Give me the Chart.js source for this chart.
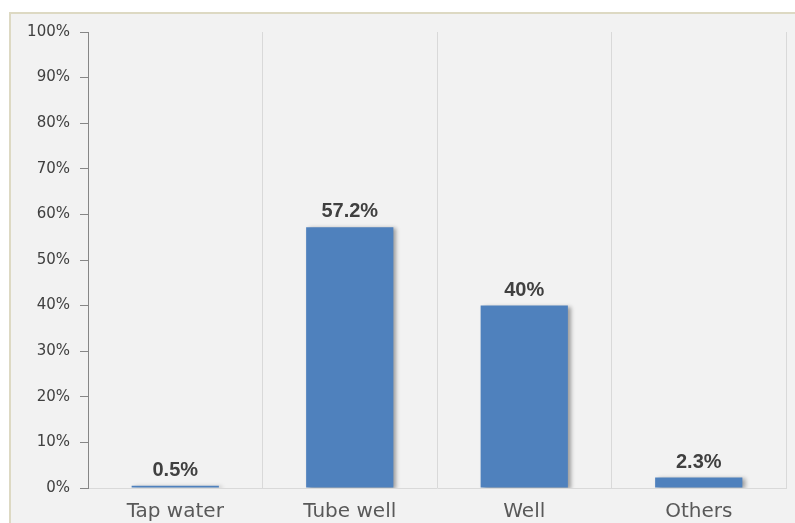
<!DOCTYPE html>
<html lang="en">
<head>
  <meta charset="UTF-8">
  <title>Drinking Water Source</title>
  <style>
    html, body {
      margin: 0;
      padding: 0;
      background: #ffffff;
      overflow: hidden;
    }

    .panel {
      position: absolute;
      left: 9px;
      top: 12px;
      width: 800px;
      height: 520px;
      background-color: #f2f2f2;
      border-top: 2px solid #ddd9c3;
      border-left: 2px solid #ddd9c3;
    }

    #waterChart {
      position: absolute;
      left: 0;
      top: 0;
    }
  </style>
</head>
<body>
<div class="panel"></div>
<canvas id="waterChart" width="795" height="523"></canvas>

<script src="https://cdn.jsdelivr.net/npm/chart.js"></script>
<script>
  const categories = ['Tap water', 'Tube well', 'Well', 'Others'];
  const shares = [0.5, 57.2, 40, 2.3];
  const shareLabels = ['0.5%', '57.2%', '40%', '2.3%'];

  // soft drop shadow behind the bars
  const barShadow = {
    id: 'barShadow',
    beforeDatasetsDraw(chart) {
      const c = chart.ctx;
      c.save();
      c.shadowColor = 'rgba(0, 0, 0, 0.35)';
      c.shadowBlur = 4;
      c.shadowOffsetX = 3;
      c.shadowOffsetY = 1;
    },
    afterDatasetsDraw(chart) {
      chart.ctx.restore();
    }
  };

  // value labels above each bar
  const barLabels = {
    id: 'barLabels',
    afterDraw(chart) {
      const c = chart.ctx;
      const bars = chart.getDatasetMeta(0).data;
      c.save();
      c.font = 'bold 20px "Liberation Sans"';
      c.fillStyle = '#404040';
      c.textAlign = 'center';
      c.textBaseline = 'alphabetic';
      bars.forEach((bar, i) => {
        c.fillText(shareLabels[i], bar.x, bar.y - 10);
      });
      c.restore();
    }
  };

  const ctx = document.getElementById('waterChart').getContext('2d');
  new Chart(ctx, {
    type: 'bar',
    data: {
      labels: categories,
      datasets: [{
        data: shares,
        backgroundColor: '#4f81bd',
        borderWidth: 0,
        categoryPercentage: 1,
        barPercentage: 0.5
      }]
    },
    options: {
      responsive: false,
      animation: false,
      layout: {
        padding: { top: 32, right: 9, bottom: 0, left: 0 }
      },
      plugins: {
        legend: { display: false },
        tooltip: { enabled: false }
      },
      scales: {
        x: {
          grid: {
            color: '#d9d9d9',
            offset: true,
            drawTicks: false
          },
          border: { color: '#d9d9d9' },
          ticks: {
            color: '#595959',
            font: { family: 'DejaVu Sans', size: 20 },
            padding: 12
          },
          afterFit(scale) {
            scale.height = 35;
          }
        },
        y: {
          min: 0,
          max: 100,
          ticks: {
            stepSize: 10,
            color: '#404040',
            font: { family: 'DejaVu Sans', size: 15 },
            padding: 10,
            callback: v => v + '%'
          },
          grid: {
            drawOnChartArea: false,
            drawTicks: true,
            tickLength: 8,
            color: '#868686'
          },
          border: { color: '#868686' },
          afterFit(scale) {
            scale.width = 88;
          }
        }
      }
    },
    plugins: [barShadow, barLabels]
  });
</script>
</body>
</html>
